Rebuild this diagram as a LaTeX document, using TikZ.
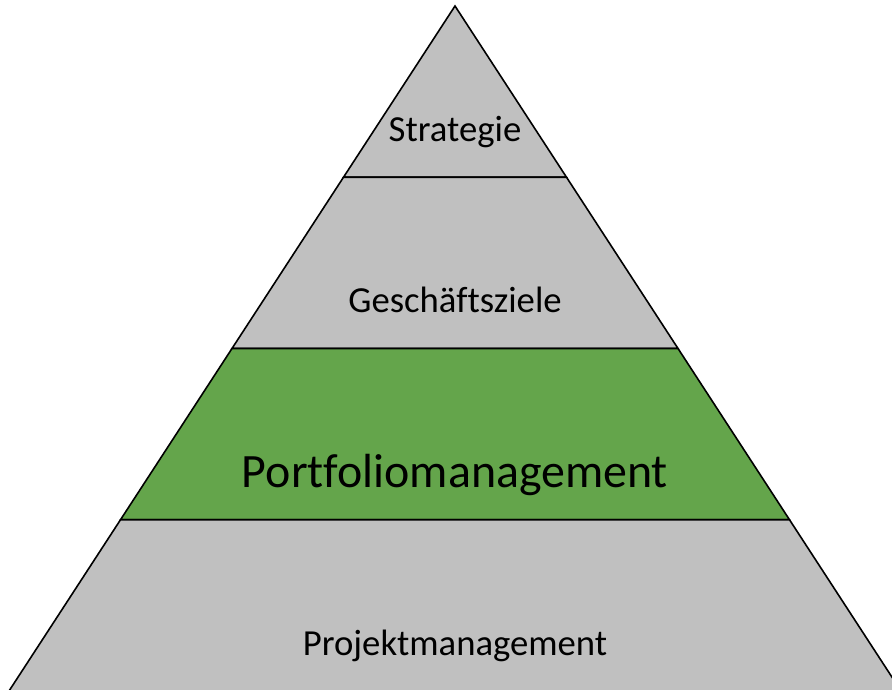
\documentclass[tikz,border=0pt]{standalone}
\usepackage{fontspec}
\setmainfont{Carlito}[Ligatures=NoCommon]
\usepackage{xcolor}
\usepackage{tikz}
\usetikzlibrary{calc}
\definecolor{levelgrey}{RGB}{192,192,192}
\definecolor{levelgreen}{RGB}{100,165,75}
\tikzset{
    layer/.style={draw=black, line width=1.6pt, line join=miter, fill=levelgrey},
    bandtext/.style={anchor=base, inner sep=0pt, font=\fontsize{36.7}{44}\selectfont},
    bigtext/.style={anchor=base, inner sep=0pt, font=\fontsize{47.9}{57}\selectfont}
}
\begin{document}
\begin{tikzpicture}[x=1pt, y=1pt]
    \clip (0,0) rectangle (892,690);
    % Corners of the pyramid
    \coordinate (top) at (455,684);
    \coordinate (left) at (9,-1);
    \coordinate (right) at (901,-1);
    \coordinate (l1) at ($(top)!0.25!(left)$);
    \coordinate (r1) at ($(top)!0.25!(right)$);
    \coordinate (l2) at ($(top)!0.5!(left)$);
    \coordinate (r2) at ($(top)!0.5!(right)$);
    \coordinate (l3) at ($(top)!0.75!(left)$);
    \coordinate (r3) at ($(top)!0.75!(right)$);

    % Layers
    \draw[layer] (top) -- (r1) -- (l1) -- cycle;
    \draw[layer] (l1) -- (r1) -- (r2) -- (l2) -- cycle;
    \draw[layer, fill=levelgreen] (l2) -- (r2) -- (r3) -- (l3) -- cycle;
    \draw[layer] (l3) -- (r3) -- (right) -- (left) -- cycle;

    % Labels
    \node[bandtext] (strategie) at (455,548) {Strategie};
    \node[bandtext] (ziele) at (455,377) {Geschäftsziele};
    \node[bigtext] (portfolio) at (455,202) {Portfoliomanagement};
    \node[bandtext] (projekt) at (455,34) {Projektmanagement};
\end{tikzpicture}
\end{document}
